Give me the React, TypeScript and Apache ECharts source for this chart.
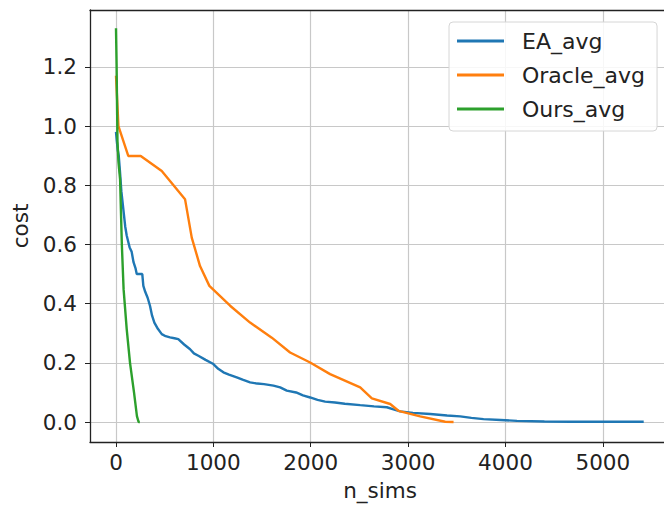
import React, { useEffect, useRef } from "react";
import * as echarts from "echarts";

const xTicks = [0, 1000, 2000, 3000, 4000, 5000];
const yTicks = [0, 0.2, 0.4, 0.6, 0.8, 1.0, 1.2];

const eaX = [0, 8, 18, 28, 40, 55, 75, 95, 110, 125, 140, 161, 180, 200, 213, 270, 281, 300, 325, 349, 370, 394, 430, 470, 510, 555, 600, 640, 700, 761, 800, 846, 920, 1000, 1050, 1103, 1160, 1240, 1300, 1377, 1450, 1520, 1617, 1686, 1754, 1850, 1920, 1994, 2070, 2148, 2250, 2350, 2508, 2650, 2782, 2850, 2919, 3050, 3227, 3400, 3535, 3650, 3775, 3950, 4118, 4400, 4666, 5420];
const eaY = [0.98, 0.95, 0.92, 0.9, 0.85, 0.78, 0.72, 0.66, 0.63, 0.61, 0.59, 0.575, 0.54, 0.52, 0.5, 0.5, 0.46, 0.44, 0.42, 0.393, 0.36, 0.336, 0.315, 0.297, 0.29, 0.286, 0.283, 0.28, 0.262, 0.246, 0.232, 0.224, 0.21, 0.196, 0.18, 0.168, 0.16, 0.151, 0.143, 0.134, 0.13, 0.128, 0.123, 0.117, 0.106, 0.1, 0.09, 0.083, 0.075, 0.069, 0.066, 0.062, 0.057, 0.053, 0.05, 0.043, 0.036, 0.031, 0.027, 0.022, 0.019, 0.014, 0.01, 0.007, 0.004, 0.002, 0.001, 0.001];

const oracleX = [0, 25, 126, 254, 470, 709, 778, 863, 959, 1172, 1377, 1600, 1788, 1994, 2199, 2508, 2628, 2816, 2901, 3124, 3381, 3467];
const oracleY = [1.17, 1.0, 0.899, 0.899, 0.848, 0.753, 0.623, 0.527, 0.46, 0.393, 0.336, 0.285, 0.235, 0.201, 0.162, 0.117, 0.08, 0.061, 0.038, 0.019, 0.001, 0.0];

const oursX = [0, 6, 15, 25, 42, 60, 78, 110, 144, 185, 215, 232, 245];
const oursY = [1.33, 1.21, 0.95, 0.88, 0.82, 0.6, 0.449, 0.314, 0.2, 0.1, 0.02, 0.0, 0.0];

const seriesNames = ["EA_avg", "Oracle_avg", "Ours_avg"];
const colors = ["#1f77b4", "#ff7f0e", "#2ca02c"];

const zip = (xs: number[], ys: number[]) => xs.map((x, i) => [x, ys[i]]);

const FONT = "DejaVu Sans";
const X_MIN = -267;
const X_MAX = 5690;

export default function App() {
  const ref = useRef<HTMLDivElement>(null);
  useEffect(() => {
    if (!ref.current) return;
    const chart = echarts.init(ref.current, undefined, { renderer: "svg" });
    const data = [zip(eaX, eaY), zip(oracleX, oracleY), zip(oursX, oursY)];
    chart.setOption({
      animation: false,
      backgroundColor: "#ffffff",
      textStyle: { fontFamily: FONT },
      grid: {
        left: 90,
        top: 10,
        right: 10,
        bottom: 63,
        show: false,
        containLabel: false,
      },
      legend: {
        orient: "vertical",
        left: 449,
        top: 22,
        data: seriesNames,
        icon: "rect",
        itemWidth: 47,
        itemHeight: 3,
        itemGap: 12,
        padding: [8, 12, 11, 8],
        backgroundColor: "rgba(255,255,255,0.85)",
        borderColor: "#d6d6d6",
        borderWidth: 1,
        borderRadius: 4,
        textStyle: {
          fontFamily: FONT,
          fontSize: 22,
          color: "#222",
          lineHeight: 22,
          padding: [0, 0, 0, 13],
        },
      },
      xAxis: [
        {
          type: "value",
          min: X_MIN,
          max: X_MAX,
          splitNumber: 5,
          name: "n_sims",
          nameLocation: "middle",
          nameGap: 37,
          nameTextStyle: { fontFamily: FONT, fontSize: 21.5, color: "#222" },
          axisLine: { show: true, onZero: false, lineStyle: { color: "#222", width: 1.3 } },
          axisTick: { show: true, inside: false, length: 5, customValues: xTicks, lineStyle: { color: "#222", width: 1 } },
          axisLabel: {
            customValues: xTicks,
            fontFamily: FONT,
            fontSize: 21.5,
            color: "#222",
            margin: 9,
            formatter: (v: number) => String(Math.round(v)),
          },
          splitLine: { show: true, lineStyle: { color: "#c8c8c8", width: 1.2 } },
        },
        {
          type: "value",
          position: "top",
          min: X_MIN,
          max: X_MAX,
          axisLine: { show: true, onZero: false, lineStyle: { color: "#222", width: 1.3 } },
          axisTick: { show: false },
          axisLabel: { show: false },
          splitLine: { show: false },
        },
      ],
      yAxis: {
        type: "value",
        min: -0.0674,
        max: 1.392,
        splitNumber: 7,
        name: "cost",
        nameLocation: "middle",
        nameGap: 56,
        nameRotate: 90,
        nameTextStyle: { fontFamily: FONT, fontSize: 21.5, color: "#222" },
        axisLine: { show: true, onZero: false, lineStyle: { color: "#222", width: 1.3 } },
        axisTick: { show: true, inside: false, length: 5, customValues: yTicks, lineStyle: { color: "#222", width: 1 } },
        axisLabel: {
          customValues: yTicks,
          fontFamily: FONT,
          fontSize: 21.5,
          color: "#222",
          margin: 13,
          formatter: (v: number) => v.toFixed(1),
        },
        splitLine: { show: true, lineStyle: { color: "#c8c8c8", width: 1.2 } },
      },
      series: seriesNames.map((name, i) => ({
        name,
        type: "line",
        xAxisIndex: 0,
        data: data[i],
        showSymbol: false,
        symbol: "none",
        color: colors[i],
        lineStyle: { color: colors[i], width: 2.4 },
        z: 2 + i,
      })),
    });
    return () => chart.dispose();
  }, []);
  return (
    <div style={{ position: "fixed", left: 0, top: 0, width: 664, height: 506, overflow: "hidden", background: "#fff" }}>
      <div ref={ref} style={{ width: 680, height: 506 }} />
    </div>
  );
}
